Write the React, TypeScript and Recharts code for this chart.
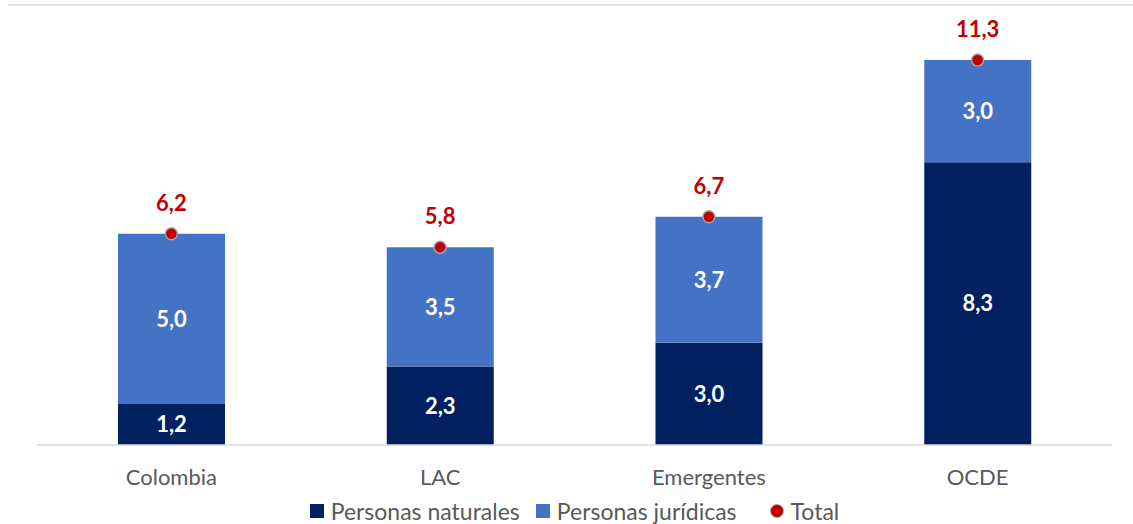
import {
  ComposedChart,
  Bar,
  Line,
  XAxis,
  YAxis,
  Legend,
  LabelList,
} from "recharts"

const categories = ["Colombia", "LAC", "Emergentes", "OCDE"]
const naturales = [1.2, 2.3, 3.0, 8.3]
const juridicas = [5.0, 3.5, 3.7, 3.0]
const totales = [6.2, 5.8, 6.7, 11.3]

const NAVY = "#002060"
const BLUE = "#4472C4"
const RED = "#C00000"
const GREY = "#595959"
const FONT = "Lato, 'Noto Sans', sans-serif"

const fmt = (v: number) => v.toFixed(1).replace(".", ",")

const data = categories.map((c, i) => ({
  name: c,
  naturales: naturales[i],
  juridicas: juridicas[i],
  total: totales[i],
}))

function LegendContent() {
  const items = [
    { label: "Personas naturales", color: NAVY, shape: "square", gapBefore: 0 },
    { label: "Personas jurídicas", color: BLUE, shape: "square", gapBefore: 16 },
    { label: "Total", color: RED, shape: "circle", gapBefore: 33 },
  ]
  return (
    <div
      style={{
        display: "flex",
        justifyContent: "center",
        alignItems: "center",
        height: 26,
        fontFamily: FONT,
        fontSize: 23,
        color: GREY,
      }}
    >
      {items.map((it) => (
        <div
          key={it.label}
          style={{ display: "flex", alignItems: "center", gap: 7, marginLeft: it.gapBefore }}
        >
          <span
            style={{
              display: "inline-block",
              width: it.shape === "circle" ? 12 : 14,
              height: it.shape === "circle" ? 12 : 14,
              background: it.color,
              borderRadius: it.shape === "circle" ? "50%" : 0,
              border: it.shape === "circle" ? "1px solid #A6A6A6" : "none",
            }}
          />
          <span>{it.label}</span>
        </div>
      ))}
    </div>
  )
}

export default function App() {
  return (
    <div style={{ position: "absolute", left: 0, top: 0, width: 1133, height: 524, background: "#fff" }}>
      <div
        style={{
          position: "absolute",
          left: 8,
          top: 4,
          width: 1125,
          height: 2,
          background: "#E3E3E3",
        }}
      />
      <ComposedChart
        width={1133}
        height={524}
        data={data}
        margin={{ top: 2, right: 21, left: 37, bottom: 0 }}
        barCategoryGap="30%"
      >
        <XAxis
          dataKey="name"
          axisLine={{ stroke: "#D9D9D9", strokeWidth: 1.5 }}
          tickLine={false}
          height={53}
          tickMargin={18}
          tick={{ fill: GREY, fontSize: 22, fontFamily: FONT }}
        />
        <YAxis hide domain={[0, 13]} />
        <Legend verticalAlign="bottom" content={<LegendContent />} />
        <Bar dataKey="naturales" stackId="a" fill={NAVY} barSize={107} isAnimationActive={false}>
          <LabelList
            dataKey="naturales"
            position="center"
            formatter={(v: any) => fmt(Number(v))}
            style={{ fill: "#fff", fontSize: 22, fontWeight: 700, fontFamily: FONT }}
          />
        </Bar>
        <Bar dataKey="juridicas" stackId="a" fill={BLUE} barSize={107} isAnimationActive={false}>
          <LabelList
            dataKey="juridicas"
            position="center"
            formatter={(v: any) => fmt(Number(v))}
            style={{ fill: "#fff", fontSize: 22, fontWeight: 700, fontFamily: FONT }}
          />
        </Bar>
        <Line
          dataKey="total"
          stroke="none"
          legendType="circle"
          dot={{ r: 6, fill: RED, stroke: "#A6A6A6", strokeWidth: 1.5 }}
          activeDot={false}
          isAnimationActive={false}
        >
          <LabelList
            dataKey="total"
            position="top"
            offset={23}
            formatter={(v: any) => fmt(Number(v))}
            style={{ fill: RED, fontSize: 22, fontWeight: 700, fontFamily: FONT }}
          />
        </Line>
      </ComposedChart>
    </div>
  )
}
